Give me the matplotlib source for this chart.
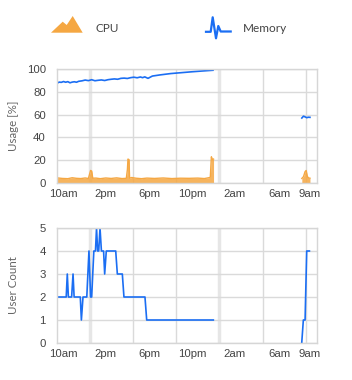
import matplotlib
matplotlib.use("Agg")
import matplotlib.pyplot as plt
from matplotlib.patches import Polygon

plt.rcParams['font.family'] = ['Lato', 'DejaVu Sans']

# hours since 9am of day one
mem_t1 = [0, 0.2, 0.4, 0.6, 0.8, 1.0, 1.2, 1.4, 1.6, 1.8, 2.0, 2.3, 2.6, 2.9, 3.2, 3.5,
          3.8, 4.1, 4.4, 4.7, 5.0, 5.3, 5.6, 5.9, 6.2, 6.5, 6.8, 7.1, 7.4, 7.7, 7.9, 8.1,
          8.4, 8.8, 9.5, 10.5, 11.5, 12.5, 13.5, 14.4]
mem_v1 = [87.5, 88.5, 88.3, 89, 88.4, 88.9, 87.9, 88.5, 88.8, 88.4, 89.2, 89.6, 90.3, 89.8, 90.6,
          89.7, 90.1, 90.4, 89.9, 90.6, 91.0, 91.3, 91.0, 91.8, 92.0, 91.7, 92.4, 92.8, 92.3, 93.0,
          92.4, 93.1, 91.8, 93.8, 94.8, 96.0, 96.8, 97.6, 98.3, 98.9]
mem_t2 = [22.6, 22.75, 22.9, 23.05, 23.2, 23.35]
mem_v2 = [57.0, 58.6, 58.0, 57.3, 57.7, 57.6]

cpu_t1 = [0, 0.5, 1.0, 1.4, 1.8, 2.2, 2.6, 2.9, 3.0, 3.1, 3.2, 3.3, 3.6, 4.0, 4.5, 5.0,
          5.5, 6.0, 6.4, 6.5, 6.55, 6.65, 6.7, 6.9, 7.3, 7.8, 8.3, 9.0, 9.8, 10.6, 11.4,
          12.2, 13.0, 13.6, 14.0, 14.15, 14.25, 14.35, 14.45]
cpu_v1 = [4.5, 4.0, 3.8, 4.6, 4.1, 3.9, 4.4, 4.0, 7.5, 11.0, 10.5, 4.2, 4.3, 3.8, 4.4, 4.0,
          4.5, 3.9, 4.1, 12.0, 21.0, 20.5, 4.3, 4.8, 4.2, 3.8, 4.3, 4.0, 4.4, 3.9, 4.2,
          4.1, 4.3, 3.9, 4.6, 5.0, 23.0, 20.5, 21.0]
cpu_t2 = [22.6, 22.75, 22.9, 23.0, 23.1, 23.2, 23.35]
cpu_v2 = [4.0, 5.5, 10.0, 11.0, 6.0, 4.5, 4.2]

users_t1 = [0, 0.85, 0.95, 1.05, 1.35, 1.48, 1.58, 2.15, 2.25, 2.4, 2.75, 2.95, 3.1, 3.2,
            3.4, 3.55, 3.65, 3.75, 3.85, 3.97, 4.1, 4.3, 4.4, 4.55, 5.42, 5.57, 6.03, 6.18,
            8.12, 8.28, 14.43]
users_v1 = [2, 2, 3, 2, 2, 3, 2, 2, 1, 2, 2, 4, 2, 2,
            4, 4, 5, 4, 4, 5, 4, 4, 3, 4, 4, 3, 3, 2,
            2, 1, 1]
users_t2 = [22.59, 22.74, 22.9, 23.05, 23.3]
users_v2 = [0, 1, 1, 4, 4]

tick_labels = ['10am', '2pm', '6pm', '10pm', '2am', '6am', '9am']
tick_pos = [0.55, 4.5, 8.5, 12.45, 16.4, 20.5, 23.3]
grid_pos = [3, 7, 11, 15, 19, 23]
grid_w = [2.5, 1.0, 1.0, 2.5, 1.0, 1.0]
grid_col = ['#e6e6e6', '#dadada', '#dadada', '#e6e6e6', '#dadada', '#dadada']

blue = '#1b6ef3'
orange = '#f5a742'
text_c = '#444444'

fig = plt.figure(figsize=(3.52, 3.8), dpi=100)
ax1 = fig.add_axes([57 / 352, 1 - 183 / 380, 260 / 352, 114 / 380])
ax2 = fig.add_axes([57 / 352, 1 - 343 / 380, 260 / 352, 115 / 380])


def style(ax, ymax, ystep, ylabel):
    ax.set_xlim(0, 24)
    ax.set_ylim(0, ymax)
    ax.set_yticks(range(0, ymax + 1, ystep))
    ax.set_xticks(tick_pos)
    ax.set_xticklabels(tick_labels)
    ax.tick_params(length=0, labelsize=8.2, colors=text_c)
    ax.tick_params(axis='y', pad=8)
    ax.tick_params(axis='x', pad=4)
    ax.grid(axis='y', color='#dadada', linewidth=1)
    for g, w, c in zip(grid_pos, grid_w, grid_col):
        ax.axvline(g, color=c, linewidth=w, zorder=0)
    for s in ax.spines.values():
        s.set_color('#d6d6d6')
        s.set_linewidth(1)
    ax.set_axisbelow(True)
    ax.set_ylabel(ylabel, fontsize=8.3, color='#666666')
    ax.yaxis.set_label_coords(-0.145, 0.5)
    for lab in ax.get_xticklabels() + ax.get_yticklabels():
        lab.set_family(['Liberation Sans', 'DejaVu Sans'])


style(ax1, 100, 20, 'Usage [%]')
ax1.fill_between(cpu_t1, cpu_v1, color=orange, alpha=0.85, linewidth=0)
ax1.plot(cpu_t1, cpu_v1, color=orange, linewidth=1)
ax1.fill_between(cpu_t2, cpu_v2, color=orange, alpha=0.85, linewidth=0)
ax1.plot(cpu_t2, cpu_v2, color=orange, linewidth=1)
ax1.plot(mem_t1, mem_v1, color=blue, linewidth=1.2)
ax1.plot(mem_t2, mem_v2, color=blue, linewidth=1.2)

style(ax2, 5, 1, 'User Count')
ax2.plot(users_t1, users_v1, color=blue, linewidth=1.2)
ax2.plot(users_t2, users_v2, color=blue, linewidth=1.2)

# legend icons, in pixel coordinates
leg = fig.add_axes([0, 0, 1, 1], zorder=5)
leg.set_xlim(0, 352)
leg.set_ylim(380, 0)
leg.axis('off')
leg.add_patch(Polygon([(51, 32.7), (62.7, 21.7), (66.7, 25), (72.7, 16), (82.7, 32.7)],
                      closed=True, color=orange, linewidth=0))
leg.plot([206, 210.7, 212.7, 216, 218.3, 220.7, 230.7],
         [31.8, 31.8, 17.3, 38.3, 26, 31.5, 31.5], color=blue, linewidth=1.6)
leg.text(96, 29, 'CPU', fontsize=8.5, color=text_c, va='center')
leg.text(242.5, 29, 'Memory', fontsize=8.5, color=text_c, va='center')

fig.savefig('out.png', dpi=100)
